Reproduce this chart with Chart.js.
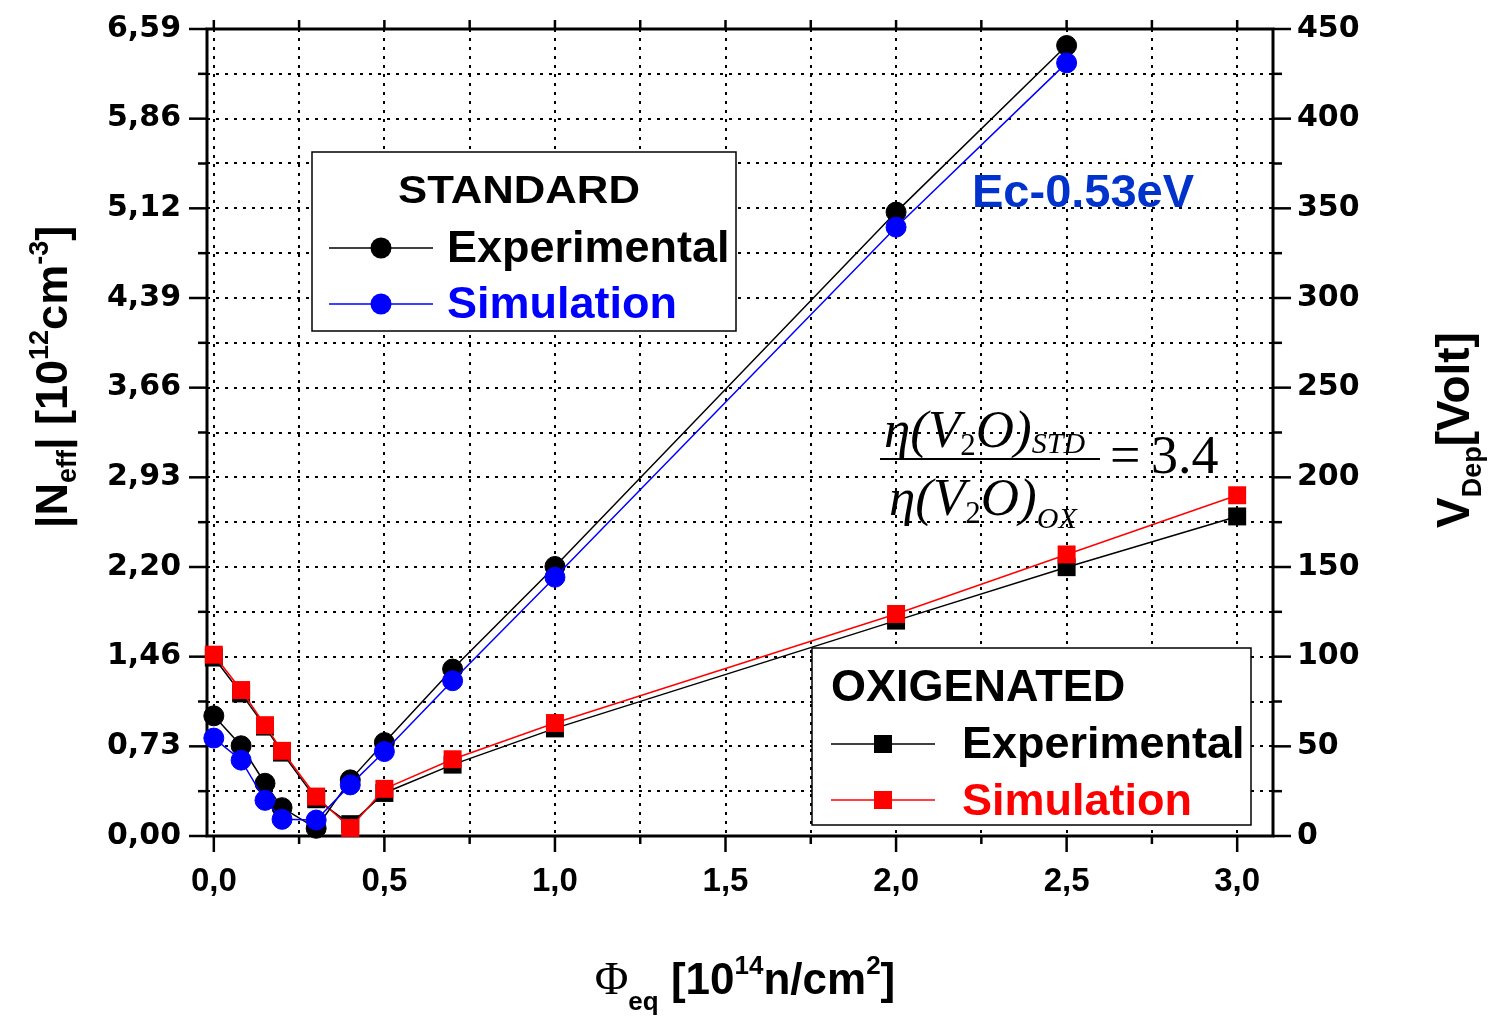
<!DOCTYPE html>
<html>
<head>
<meta charset="utf-8">
<script src="https://cdn.jsdelivr.net/npm/chart.js@4/dist/chart.umd.min.js"></script>
<style>
  html, body { margin: 0; padding: 0; background: #fff; }
  #plot { display: block; }
</style>
</head>
<body>
<canvas id="plot" width="1488" height="1017"></canvas>
<script>
// fluence in 10^14 n/cm2, depletion voltage in V
const fluenceStd = [0, 0.08, 0.15, 0.2, 0.3, 0.4, 0.5, 0.7, 1.0, 2.0, 2.5];
const stdExp = [67, 50.3, 29.4, 15.8, 4.3, 31.3, 52.1, 93.1, 150.3, 347.9, 440.8];
const stdSim = [54.6, 42.3, 19.9, 9.3, 8.9, 28.5, 47.1, 86.6, 144.3, 339.5, 431.1];

const fluenceOx = [0, 0.08, 0.15, 0.2, 0.3, 0.4, 0.5, 0.7, 1.0, 2.0, 2.5, 3.0];
const oxExp = [99.5, 79.5, 61, 46.5, 20.5, 6.6, 24, 39.8, 60, 120.1, 149.9, 178.2];
const oxSim = [101.1, 81.4, 61.8, 47.5, 22, 4.5, 26.3, 42.8, 63, 123.8, 157, 190];

// axes
const xTicks = [0, 0.25, 0.5, 0.75, 1.0, 1.25, 1.5, 1.75, 2.0, 2.25, 2.5, 2.75, 3.0];
const xLabels = ['0,0', '0,5', '1,0', '1,5', '2,0', '2,5', '3,0'];
const neffLabels = ['0,00', '0,73', '1,46', '2,20', '2,93', '3,66', '4,39', '5,12', '5,86', '6,59'];
const vdepLabels = ['0', '50', '100', '150', '200', '250', '300', '350', '400', '450'];

const SANS = '"Liberation Sans", Arial, sans-serif';
const SERIF = '"Liberation Serif", "Times New Roman", serif';

const isMajorX = v => Math.abs(v * 2 - Math.round(v * 2)) < 1e-6;
const isMajorY = v => v % 50 === 0;

function pts(xs, ys) {
    return xs.map((x, i) => ({ x: x, y: ys[i] }));
}

// text made of pieces with their own font and vertical shift
function drawParts(ctx, parts, x, y, align, angle) {
    ctx.save();
    ctx.translate(x, y);
    ctx.rotate(angle || 0);
    ctx.textBaseline = 'alphabetic';
    ctx.textAlign = 'left';
    let total = 0;
    parts.forEach(p => { ctx.font = p.font; total += ctx.measureText(p.t).width; });
    let cx = align === 'center' ? -total / 2 : 0;
    parts.forEach(p => {
        ctx.font = p.font;
        ctx.fillStyle = p.color || '#000';
        ctx.fillText(p.t, cx, p.dy || 0);
        cx += ctx.measureText(p.t).width;
    });
    ctx.restore();
}

function seg(ctx, x1, y1, x2, y2) {
    ctx.beginPath();
    ctx.moveTo(x1, y1);
    ctx.lineTo(x2, y2);
    ctx.stroke();
}

function legendRow(ctx, x1, x2, y, color, shape, label, tx, ty) {
    ctx.strokeStyle = color;
    ctx.lineWidth = 1.5;
    seg(ctx, x1, y, x2, y);
    ctx.fillStyle = color;
    const cx = (x1 + x2) / 2;
    if (shape === 'circle') {
        ctx.beginPath();
        ctx.arc(cx, y, 10.5, 0, Math.PI * 2);
        ctx.fill();
    } else {
        ctx.fillRect(cx - 9, y - 9, 18, 18);
    }
    ctx.font = 'bold 45px ' + SANS;
    ctx.textAlign = 'left';
    ctx.textBaseline = 'alphabetic';
    ctx.fillText(label, tx, ty);
}

const framePlugin = {
    id: 'frame',
    beforeDatasetsDraw(chart) {
        const { ctx, chartArea: a, scales } = chart;
        ctx.save();
        ctx.strokeStyle = '#000';
        ctx.lineWidth = 3;
        ctx.strokeRect(a.left, a.top, a.right - a.left, a.bottom - a.top);

        ctx.lineWidth = 2.5;
        xTicks.forEach(v => {
            const px = scales.x.getPixelForValue(v);
            seg(ctx, px, a.bottom, px, a.bottom + (isMajorX(v) ? 16 : 8));
            seg(ctx, px, a.top, px, a.top - 9);
        });
        scales.y.ticks.forEach(t => {
            const py = scales.y.getPixelForValue(t.value);
            const len = isMajorY(t.value) ? 18 : 9;
            seg(ctx, a.left, py, a.left - len, py);
            seg(ctx, a.right, py, a.right + len, py);
        });
        ctx.restore();
    },
    afterDatasetsDraw(chart) {
        const ctx = chart.ctx;
        ctx.save();

        // axis titles
        const big = 'bold 45px ' + SANS;
        const small = 'bold 27px ' + SANS;
        drawParts(ctx, [
            { t: '|N', font: big },
            { t: 'eff', font: small, dy: 9 },
            { t: '| [10', font: big },
            { t: '12', font: small, dy: -19 },
            { t: 'cm', font: big },
            { t: '-3', font: small, dy: -19 },
            { t: ']', font: big }
        ], 67, 377, 'center', -Math.PI / 2);

        drawParts(ctx, [
            { t: 'V', font: 'bold 46px ' + SANS },
            { t: 'Dep', font: 'bold 27px ' + SANS, dy: 12 },
            { t: '[Volt]', font: 'bold 46px ' + SANS }
        ], 1469, 430, 'center', -Math.PI / 2);

        drawParts(ctx, [
            { t: 'Φ', font: '46px ' + SERIF },
            { t: 'eq', font: 'bold 26px ' + SANS, dy: 16 },
            { t: ' [10', font: 'bold 44px ' + SANS },
            { t: '14', font: 'bold 26px ' + SANS, dy: -20 },
            { t: 'n/cm', font: 'bold 44px ' + SANS },
            { t: '2', font: 'bold 26px ' + SANS, dy: -20 },
            { t: ']', font: 'bold 44px ' + SANS }
        ], 745, 994, 'center', 0);

        // trap level label
        ctx.fillStyle = '#0033cc';
        ctx.font = 'bold 47px ' + SANS;
        ctx.textAlign = 'left';
        ctx.fillText('Ec-0.53eV', 972, 207);

        // eta ratio
        const it = 'italic 53px ' + SERIF;
        const itSmall = 'italic 30px ' + SERIF;
        const sub2 = '31px ' + SERIF;
        drawParts(ctx, [
            { t: 'η(V', font: it },
            { t: '2', font: sub2, dy: 8 },
            { t: 'O)', font: it },
            { t: 'STD', font: itSmall, dy: 6 }
        ], 884, 447, 'left', 0);
        drawParts(ctx, [
            { t: 'η(V', font: it },
            { t: '2', font: sub2, dy: 8 },
            { t: 'O)', font: it },
            { t: 'OX', font: itSmall, dy: 13 }
        ], 889, 515, 'left', 0);
        ctx.strokeStyle = '#000';
        ctx.lineWidth = 2;
        seg(ctx, 880, 459, 1100, 459);
        drawParts(ctx, [{ t: '=', font: '54px ' + SERIF }], 1110, 473, 'left', 0);
        drawParts(ctx, [{ t: '3.4', font: '54px ' + SERIF }], 1151, 473, 'left', 0);

        // legend: standard
        ctx.fillStyle = '#fff';
        ctx.fillRect(312, 152, 424, 179);
        ctx.strokeStyle = '#000';
        ctx.lineWidth = 1.5;
        ctx.strokeRect(312, 152, 424, 179);
        ctx.save();
        ctx.translate(519, 203);
        ctx.scale(1.12, 1);
        ctx.fillStyle = '#000';
        ctx.font = 'bold 39px ' + SANS;
        ctx.textAlign = 'center';
        ctx.fillText('STANDARD', 0, 0);
        ctx.restore();
        legendRow(ctx, 329, 433, 248, '#000', 'circle', 'Experimental', 447, 262);
        legendRow(ctx, 329, 433, 304, '#0000ff', 'circle', 'Simulation', 447, 318);

        // legend: oxygenated
        ctx.fillStyle = '#fff';
        ctx.fillRect(812, 648, 439, 177);
        ctx.strokeStyle = '#000';
        ctx.lineWidth = 1.5;
        ctx.strokeRect(812, 648, 439, 177);
        ctx.fillStyle = '#000';
        ctx.font = 'bold 45px ' + SANS;
        ctx.textAlign = 'left';
        ctx.fillText('OXIGENATED', 831, 701);
        legendRow(ctx, 831, 935, 744, '#000', 'rect', 'Experimental', 962, 758);
        legendRow(ctx, 831, 935, 800, '#ff0000', 'rect', 'Simulation', 962, 815);

        ctx.restore();
    }
};

const gridStyle = {
    color: '#000',
    lineWidth: 2,
    drawTicks: false
};

// fixed side widths; no extra room for the end labels
function fitSide(width) {
    return s => {
        s.width = width;
        s.paddingTop = 0;
        s.paddingBottom = 0;
    };
}

new Chart(document.getElementById('plot'), {
    type: 'line',
    data: {
        datasets: [
            {
                label: 'Simulation (STD)', data: pts(fluenceStd, stdSim),
                borderColor: '#0000ff', backgroundColor: '#0000ff',
                pointStyle: 'circle', pointRadius: 10, pointBorderWidth: 1,
                borderWidth: 1.5, order: 1
            },
            {
                label: 'Experimental (STD)', data: pts(fluenceStd, stdExp),
                borderColor: '#000', backgroundColor: '#000',
                pointStyle: 'circle', pointRadius: 10, pointBorderWidth: 1,
                borderWidth: 1.5, order: 2
            },
            {
                label: 'Simulation (OX)', data: pts(fluenceOx, oxSim),
                borderColor: '#ff0000', backgroundColor: '#ff0000',
                pointStyle: 'rect', pointRadius: 12.7, pointBorderWidth: 0,
                borderWidth: 1.5, order: 3
            },
            {
                label: 'Experimental (OX)', data: pts(fluenceOx, oxExp),
                borderColor: '#000', backgroundColor: '#000',
                pointStyle: 'rect', pointRadius: 12.7, pointBorderWidth: 0,
                borderWidth: 1.5, order: 4
            }
        ]
    },
    options: {
        responsive: false,
        animation: false,
        devicePixelRatio: 1,
        clip: false,
        layout: { padding: { top: 29, left: 0, right: 0, bottom: 0 } },
        elements: { line: { tension: 0, fill: false } },
        plugins: { legend: { display: false }, tooltip: { enabled: false } },
        scales: {
            x: {
                type: 'linear',
                min: -0.02,
                max: 3.105,
                afterBuildTicks: s => { s.ticks = xTicks.map(v => ({ value: v })); },
                afterFit: s => { s.height = 181; s.paddingLeft = 0; s.paddingRight = 0; },
                grid: gridStyle,
                border: { display: false, dash: [3, 6] },
                ticks: {
                    autoSkip: false,
                    maxRotation: 0,
                    padding: 26,
                    color: '#000',
                    font: { family: 'Liberation Sans', weight: 'bold', size: 33 },
                    callback: v => isMajorX(v) ? xLabels[Math.round(v * 2)] : ''
                }
            },
            y: {
                position: 'left',
                min: 0,
                max: 450,
                afterFit: fitSide(207),
                grid: gridStyle,
                border: { display: false, dash: [3, 6] },
                ticks: {
                    stepSize: 25,
                    autoSkip: false,
                    padding: 26,
                    color: '#000',
                    font: { family: 'DejaVu Sans', weight: 'bold', size: 30 },
                    callback: v => isMajorY(v) ? neffLabels[v / 50] : ''
                }
            },
            y1: {
                position: 'right',
                min: 0,
                max: 450,
                afterFit: fitSide(215),
                grid: { display: false, drawTicks: false },
                border: { display: false },
                ticks: {
                    stepSize: 25,
                    autoSkip: false,
                    padding: 24,
                    color: '#000',
                    font: { family: 'DejaVu Sans', weight: 'bold', size: 30 },
                    callback: v => isMajorY(v) ? vdepLabels[v / 50] : ''
                }
            }
        }
    },
    plugins: [framePlugin]
});
</script>
</body>
</html>
